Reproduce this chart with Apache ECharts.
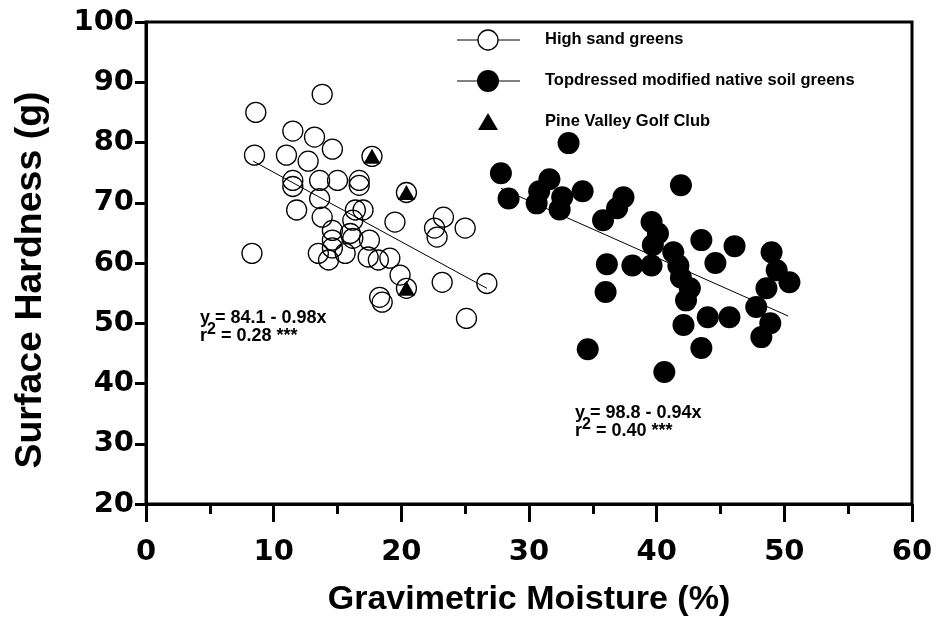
<!DOCTYPE html>
<html>
<head>
<meta charset="utf-8">
<title>Surface hardness vs gravimetric moisture</title>
<script src="https://cdn.jsdelivr.net/npm/echarts@6/dist/echarts.min.js"></script>
<style>
  html, body { margin: 0; padding: 0; background: #fff; }
  #chart { width: 936px; height: 625px; }
</style>
</head>
<body>
<div id="chart"></div>
<script>
// High sand greens (open circles): [moisture %, hardness g]
const sandGreens = [
  [8.6, 85.0], [8.5, 77.9], [8.3, 61.6], [13.8, 88.0], [11.5, 81.9], [13.2, 80.9],
  [14.6, 78.9], [11.0, 77.9], [12.7, 76.9], [11.5, 73.7], [11.5, 72.7], [13.6, 73.7],
  [15.0, 73.7], [16.7, 73.7], [16.7, 72.9], [13.6, 70.7], [11.8, 68.8], [13.8, 67.6],
  [16.4, 68.8], [17.0, 68.8], [16.2, 67.1], [19.5, 66.8], [14.6, 65.4], [16.0, 64.9],
  [14.6, 63.8], [14.6, 62.5], [13.5, 61.6], [14.3, 60.5], [15.6, 61.6], [16.2, 64.1],
  [17.5, 63.8], [17.4, 61.0], [18.2, 60.5], [19.1, 60.8], [19.9, 58.0], [18.3, 54.3],
  [18.5, 53.5], [23.2, 56.8], [25.1, 50.8], [26.7, 56.6], [23.3, 67.6], [22.6, 65.8],
  [25.0, 65.8], [22.8, 64.3], [17.7, 77.7], [20.4, 71.7], [20.4, 55.8]
];

// Topdressed modified native soil greens (filled circles)
const nativeGreens = [
  [27.8, 74.9], [33.1, 79.9], [31.6, 73.9], [30.8, 71.9], [28.4, 70.7], [34.2, 71.9],
  [32.6, 70.9], [30.6, 69.9], [32.4, 68.9], [37.4, 70.9], [36.9, 69.1], [35.8, 67.1],
  [39.6, 66.8], [40.1, 64.9], [39.7, 63.0], [36.1, 59.8], [38.1, 59.6], [39.6, 59.6],
  [41.3, 61.8], [41.7, 59.6], [41.9, 57.6], [42.6, 55.8], [42.3, 53.8], [42.1, 49.7],
  [36.0, 55.2], [41.9, 72.9], [43.5, 63.8], [46.1, 62.8], [44.6, 60.0], [49.0, 61.8],
  [49.4, 58.8], [50.4, 56.8], [48.6, 55.8], [47.8, 52.7], [48.9, 50.0], [48.2, 47.7],
  [44.0, 51.0], [45.7, 51.0], [43.5, 45.9], [40.6, 41.9], [34.6, 45.7]
];

// Pine Valley Golf Club (triangles)
const pineValley = [[17.7, 77.7], [20.4, 71.7], [20.4, 55.8]];

// fitted lines, end points
const sandFit = [[8.4, 76.9], [26.7, 55.8]];
const nativeFit = [[27.8, 72.4], [50.3, 51.2]];

const xTicks = [0, 60, 10];   // min, max, step
const yTicks = [20, 100, 10];

const legendNames = ['High sand greens', 'Topdressed modified native soil greens', 'Pine Valley Golf Club'];
const sandEq = ['y = 84.1 - 0.98x', ' = 0.28 ***'];
const nativeEq = ['y = 98.8 - 0.94x', ' = 0.40 ***'];

const FONT = '"Liberation Sans", Arial, sans-serif';
const TICKFONT = '"DejaVu Sans", sans-serif';

const chart = echarts.init(document.getElementById('chart'));

function eqText(lines, x, y) {
  return {
    type: 'text',
    left: x,
    top: y,
    style: {
      text: '{a|' + lines[0] + '}\n{a|r}{s|2}{a|' + lines[1] + '}',
      rich: {
        a: { fontFamily: FONT, fontWeight: 'bold', fontSize: 18, lineHeight: 18, fill: '#000' },
        s: { fontFamily: FONT, fontWeight: 'bold', fontSize: 16, lineHeight: 18, padding: [0, 0, 12, 0], fill: '#000' }
      }
    }
  };
}

function legendRow(i, y, symbol) {
  const items = [];
  if (i < 2) {
    items.push({ type: 'line', shape: { x1: 457, y1: y, x2: 520, y2: y }, style: { stroke: '#000', lineWidth: 1 } });
  }
  if (symbol === 'open') {
    items.push({ type: 'circle', shape: { cx: 488, cy: y, r: 10 }, style: { fill: '#fff', stroke: '#000', lineWidth: 1.3 } });
  } else if (symbol === 'filled') {
    items.push({ type: 'circle', shape: { cx: 488, cy: y, r: 11 }, style: { fill: '#000' } });
  } else {
    items.push({ type: 'polygon', shape: { points: [[488, y - 9], [498, y + 8], [478, y + 8]] }, style: { fill: '#000' } });
  }
  items.push({
    type: 'text', left: 545, top: y - 9,
    style: { text: legendNames[i], fontFamily: FONT, fontWeight: 'bold', fontSize: 16.5, fill: '#000' }
  });
  return items;
}

const option = {
  animation: false,
  backgroundColor: '#fff',
  grid: {
    left: 146, right: 24, top: 22, bottom: 121,
    show: true, borderColor: '#000', borderWidth: 3, backgroundColor: 'transparent'
  },
  xAxis: {
    type: 'value',
    min: xTicks[0], max: xTicks[1], interval: xTicks[2],
    name: 'Gravimetric Moisture (%)',
    nameLocation: 'middle',
    nameGap: 79,
    nameTextStyle: { fontFamily: FONT, fontWeight: 'bold', fontSize: 34, color: '#000' },
    axisLine: { show: true, lineStyle: { color: '#000', width: 3 } },
    axisTick: { show: true, inside: false, length: 18, lineStyle: { color: '#000', width: 3 } },
    minorTick: { show: true, splitNumber: 2, length: 10, lineStyle: { color: '#000', width: 3 } },
    axisLabel: { margin: 34, fontFamily: TICKFONT, fontWeight: 'bold', fontSize: 29, color: '#000' },
    splitLine: { show: false }
  },
  yAxis: {
    type: 'value',
    min: yTicks[0], max: yTicks[1], interval: yTicks[2],
    name: 'Surface Hardness (g)',
    nameLocation: 'middle',
    nameGap: 96,
    nameTextStyle: { fontFamily: FONT, fontWeight: 'bold', fontSize: 37.5, color: '#000', padding: [0, 34, 0, 0] },
    axisLine: { show: true, lineStyle: { color: '#000', width: 3 } },
    axisTick: { show: true, inside: false, length: 11, lineStyle: { color: '#000', width: 3 } },
    axisLabel: { margin: 12, fontFamily: TICKFONT, fontWeight: 'bold', fontSize: 29, color: '#000' },
    splitLine: { show: false }
  },
  series: [
    {
      name: legendNames[0], type: 'scatter', data: sandGreens,
      symbol: 'circle', symbolSize: 20,
      itemStyle: { color: 'rgba(255,255,255,0)', borderColor: '#000', borderWidth: 1.3, opacity: 1 },
      emphasis: { disabled: true }, z: 3
    },
    {
      name: legendNames[1], type: 'scatter', data: nativeGreens,
      symbol: 'circle', symbolSize: 22,
      itemStyle: { color: '#000', opacity: 1 },
      emphasis: { disabled: true }, z: 3
    },
    {
      name: legendNames[2], type: 'scatter', data: pineValley,
      symbol: 'triangle', symbolSize: [17, 15],
      itemStyle: { color: '#000', opacity: 1 },
      emphasis: { disabled: true }, z: 4
    },
    {
      type: 'line', data: sandFit, symbol: 'none', silent: true,
      lineStyle: { color: '#000', width: 1 }, z: 2
    },
    {
      type: 'line', data: nativeFit, symbol: 'none', silent: true,
      lineStyle: { color: '#000', width: 1 }, z: 2
    }
  ],
  graphic: [
    ...legendRow(0, 40, 'open'),
    ...legendRow(1, 81, 'filled'),
    ...legendRow(2, 122, 'triangle'),
    eqText(sandEq, 200, 309),
    eqText(nativeEq, 575, 404)
  ]
};

chart.setOption(option);
</script>
</body>
</html>
